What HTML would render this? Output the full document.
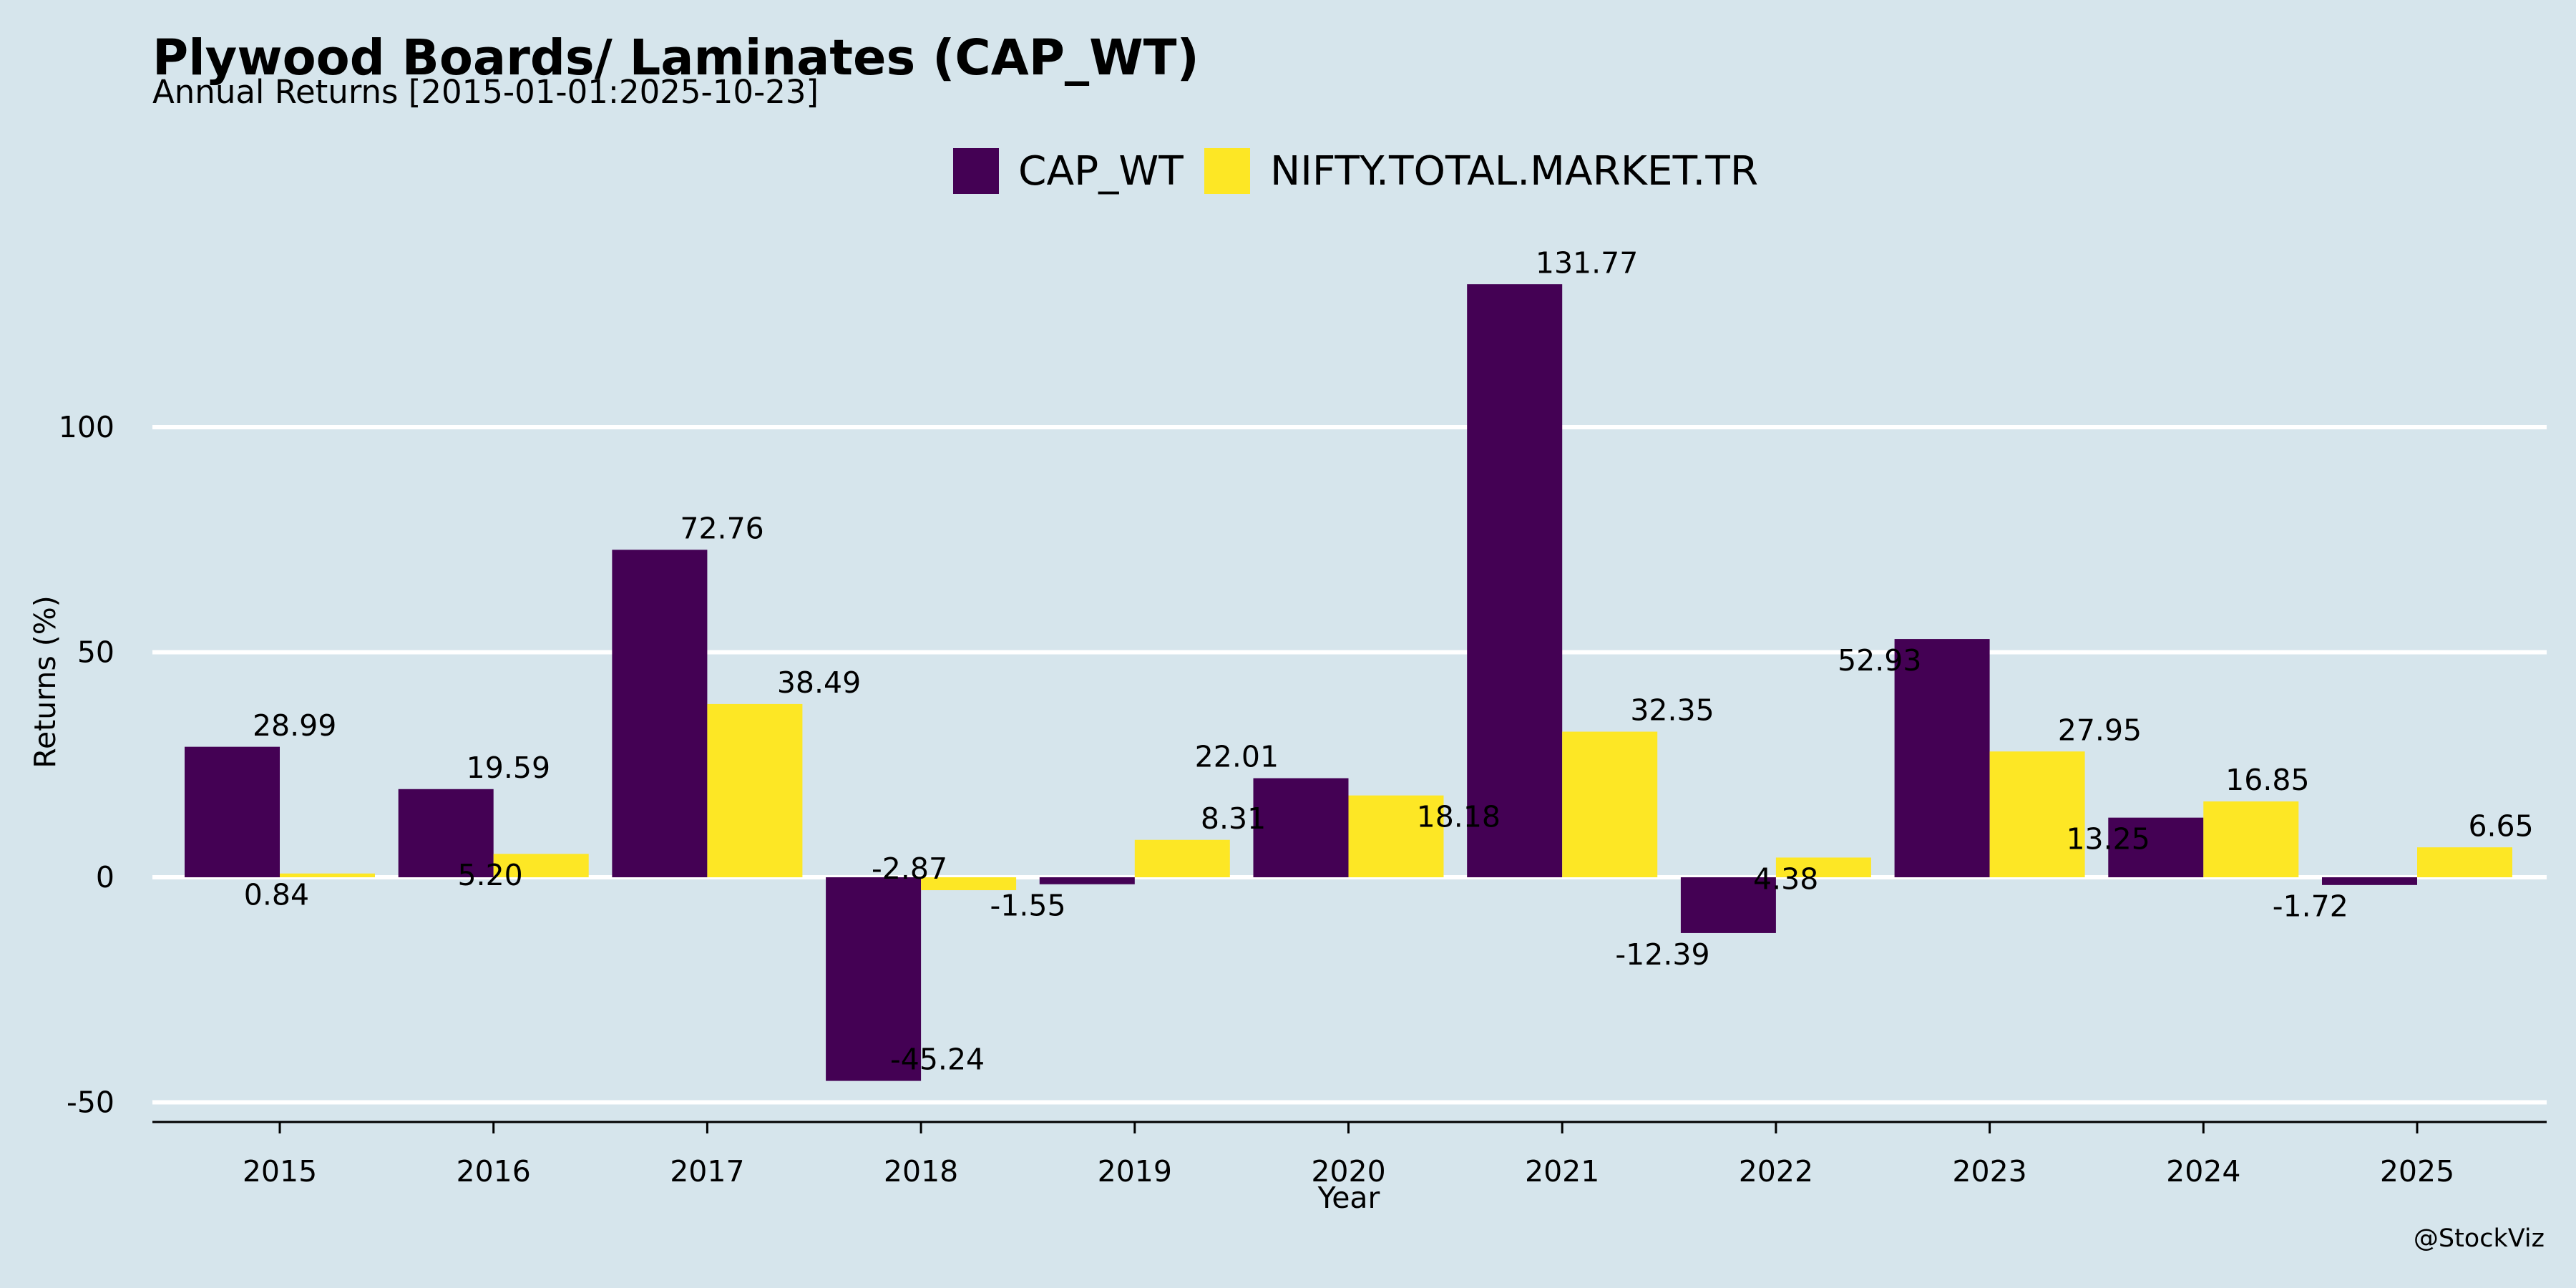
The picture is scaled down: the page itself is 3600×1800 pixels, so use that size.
<!DOCTYPE html>
<html><head><meta charset="utf-8">
<style>
html,body{margin:0;padding:0;background:#d6e5ec;}
svg{display:block;font-family:"DejaVu Sans","Liberation Sans",sans-serif;}
</style></head>
<body>
<svg id="chart" width="3600" height="1800" viewBox="0 0 3600 1800" xmlns="http://www.w3.org/2000/svg">
<rect width="3600" height="1800" fill="#d6e5ec"/>
<text x="213" y="104" font-size="68.5" font-weight="bold" fill="#000">Plywood Boards/ Laminates (CAP_WT)</text>
<text x="213" y="144" font-size="45" fill="#000">Annual Returns [2015-01-01:2025-10-23]</text>
<g>
<rect x="1332" y="207" width="64" height="64" fill="#440154"/>
<text x="1423" y="258" font-size="56.5">CAP_WT</text>
<rect x="1683" y="207" width="64" height="64" fill="#fde725"/>
<text x="1775" y="258" font-size="56.5">NIFTY.TOTAL.MARKET.TR</text>
</g>
<g id="plot"></g>
<text transform="translate(77,953) rotate(-90)" text-anchor="middle" font-size="41">Returns (%)</text>
<text x="1885" y="1688" text-anchor="middle" font-size="41">Year</text>
<text x="3556" y="1742" text-anchor="end" font-size="35">@StockViz</text>
</svg>
<script>
const years = ["2015","2016","2017","2018","2019","2020","2021","2022","2023","2024","2025"];
const capWt = [28.99,19.59,72.76,-45.24,-1.55,22.01,131.77,-12.39,52.93,13.25,-1.72];
const nifty = [0.84,5.20,38.49,-2.87,8.31,18.18,32.35,4.38,27.95,16.85,6.65];
const yTicks = [-50,0,50,100];
// label jitter (display offsets from group center, and above(+1)/below(-1))
const capDx = [9,9,9,10,-65,-68,15,-69,-67,-58,-65];
const capSide = [1,1,1,1,-1,1,1,-1,-1,-1,-1];
const niftyDx = [-2,-2,68,-7,60,67,67,6,67,39,51];
const niftySide = [-1,-1,1,1,1,-1,1,-1,1,1,1];

const S = 2.296;
const NS = "http://www.w3.org/2000/svg";
const g = document.getElementById('plot');
const y0 = 1226, perUnit = 6.29;
const yScale = v => y0 - v*perUnit;
const x0 = 391, step = 298.7;
const xScale = i => x0 + i*step;
const barW = 133;
function mk(tag, attrs){const e=document.createElementNS(NS,tag);for(const k in attrs)e.setAttribute(k,attrs[k]);g.appendChild(e);return e;}

yTicks.forEach(t=>{
  const l = mk('line',{x1:213,x2:3559,y1:yScale(t),y2:yScale(t),stroke:'#fff','stroke-width':6});
  
  
  const tx = mk('text',{x:160,y:yScale(t)+14,'text-anchor':'end','font-size':41});
  tx.textContent = t;
  
  
});
const ax = mk('line',{x1:213,x2:3559,y1:1568,y2:1568,stroke:'#000','stroke-width':3});



function bar(v,x,color,name){
  const top = Math.min(yScale(v),yScale(0)), h = Math.abs(yScale(v)-yScale(0));
  const r = mk('rect',{x:x,y:top,width:barW,height:h,fill:color});
  
  
}
function label(v,cx,dx,side,name){
  const t = mk('text',{x:cx+dx*S,y:yScale(v) - side*13*S + 14,'text-anchor':'middle','font-size':41});
  t.textContent = v.toFixed(2);
  
  
}
years.forEach((yr,i)=>{
  const cx = xScale(i);
  bar(capWt[i],cx-barW,'#440154','bar-cap-wt-'+yr);
  bar(nifty[i],cx,'#fde725','bar-nifty-'+yr);
  const tk = mk('line',{x1:cx,x2:cx,y1:1568,y2:1584,stroke:'#000','stroke-width':3});
  
  
  const tl = mk('text',{x:cx,y:1651,'text-anchor':'middle','font-size':41});
  tl.textContent = yr;
  
  
});
years.forEach((yr,i)=>{
  const cx = xScale(i);
  label(capWt[i],cx,capDx[i],capSide[i],'value-label-cap-wt-'+yr);
  label(nifty[i],cx,niftyDx[i],niftySide[i],'value-label-nifty-'+yr);
});
</script>
</body></html>
